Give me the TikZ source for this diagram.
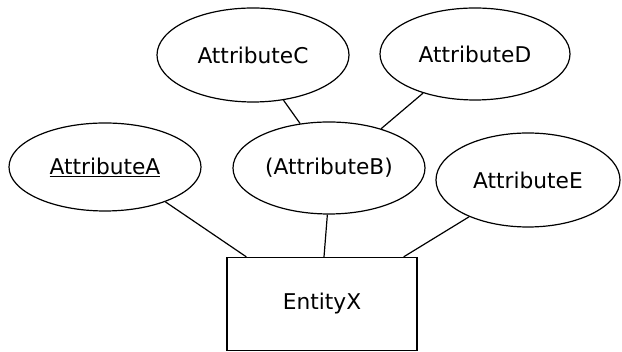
\documentclass[tikz,border=0pt]{standalone}
\usepackage{fontspec}
\setmainfont{DejaVu Sans}
\usetikzlibrary{shapes.geometric}
\begin{document}
\begin{tikzpicture}[x=1pt,y=1pt,
  attr/.style={ellipse,draw,line width=1.2pt,inner sep=0pt},
  ent/.style={rectangle,draw,line width=1.2pt,minimum width=190pt,minimum height=93pt,inner sep=0pt},
  link/.style={line width=1.2pt},
  every node/.style={font=\fontsize{21.7}{26}\selectfont}]
\useasboundingbox (0,0) rectangle (622,352);
\node[attr,minimum width=192pt,minimum height=88pt] (A) at (105,185) {\underline{AttributeA}};
\node[attr,minimum width=192pt,minimum height=92pt] (B) at (329,184) {(AttributeB)};
\node[attr,minimum width=192pt,minimum height=94pt] (C) at (253,297) {AttributeC};
\node[attr,minimum width=190pt,minimum height=92pt] (D) at (475,298) {AttributeD};
\node[attr,minimum width=184pt,minimum height=94pt] (E) at (528,172) {AttributeE};
\node[ent] (X) at (322,48) {EntityX};
\draw[link] (A.-30) -- ([xshift=20pt]X.north west);
\draw[link] (B.-92) -- ([xshift=2pt]X.north);
\draw[link] (E.212) -- ([xshift=-14pt]X.north east);
\draw[link] (C.-56) -- (B.123);
\draw[link] (D.217) -- (B.37);
\end{tikzpicture}
\end{document}
